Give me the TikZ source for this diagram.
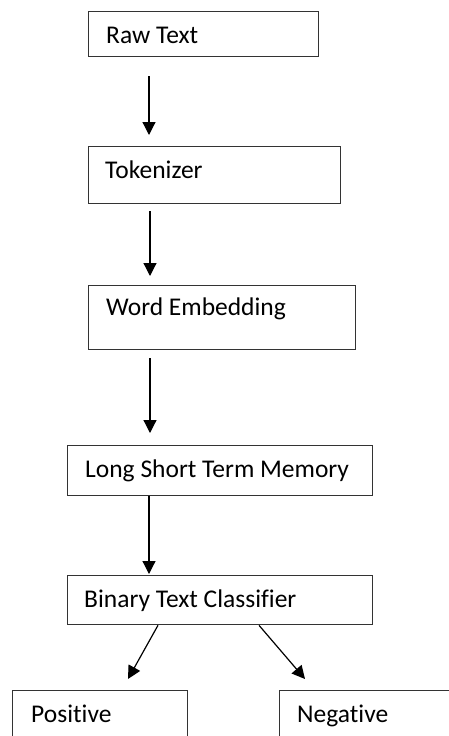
\documentclass[tikz,border=0pt]{standalone}
\usepackage{fontspec}
\setmainfont{Carlito}[Ligatures=NoCommon]
\usepackage{xcolor}
\usepackage{tikz}
\usetikzlibrary{arrows.meta}

\begin{document}
\begin{tikzpicture}[x=1pt,y=-1pt]
        \tikzstyle{stage}=[draw=black!80,line width=1.3pt,anchor=north west,inner sep=0pt]
        \tikzstyle{caption}=[anchor=base west,inner sep=0pt,font=\fontsize{25.5}{30}\selectfont]
        \tikzstyle{flow}=[-{Triangle[length=13pt,width=13pt]},line width=1.2pt]
        \clip (0,0) rectangle (449,736);
        \fill[white] (0,0) rectangle (449,736);
        % boxes
        \node[stage,minimum width=230,minimum height=45] (raw) at (88,11) {};
        \node[stage,minimum width=252,minimum height=57] (tok) at (88,146) {};
        \node[stage,minimum width=267,minimum height=64] (word) at (88,285) {};
        \node[stage,minimum width=305,minimum height=50] (lstm) at (67,445) {};
        \node[stage,minimum width=305,minimum height=49] (binary) at (67,575) {};
        \node[stage,minimum width=175,minimum height=70] (pos) at (12,690) {};
        \node[stage,minimum width=200,minimum height=70] (neg) at (279,690) {};
        % texts
        \node[caption] (rawtxt) at (106,43) {Raw Text};
        \node[caption] (toktxt) at (105,178) {Tokenizer};
        \node[caption] (wordtxt) at (106,315) {Word Embedding};
        \node[caption] (lstmtxt) at (85,477) {Long Short Term Memory};
        \node[caption] (binarytxt) at (84,607) {Binary Text Classifier};
        \node[caption] (postxt) at (31,722) {Positive};
        \node[caption] (negtxt) at (297,722) {Negative};
        % arrows
        \draw[flow] ([xshift=61pt,yshift=-19pt]raw.south west) -- ([xshift=61pt,yshift=11pt]tok.north west);
        \draw[flow] ([xshift=62pt,yshift=-7pt]tok.south west) -- ([xshift=62pt,yshift=9pt]word.north west);
        \draw[flow] ([xshift=62pt,yshift=-8pt]word.south west) -- ([xshift=83pt,yshift=12pt]lstm.north west);
        \draw[flow] ([xshift=82pt]lstm.south west) -- ([xshift=82pt,yshift=1pt]binary.north west);
        \draw[flow] ([xshift=91pt]binary.south west) -- ([xshift=116pt,yshift=11pt]pos.north west);
        \draw[flow] ([xshift=192pt]binary.south west) -- ([xshift=26pt,yshift=11pt]neg.north west);
\end{tikzpicture}
\end{document}
